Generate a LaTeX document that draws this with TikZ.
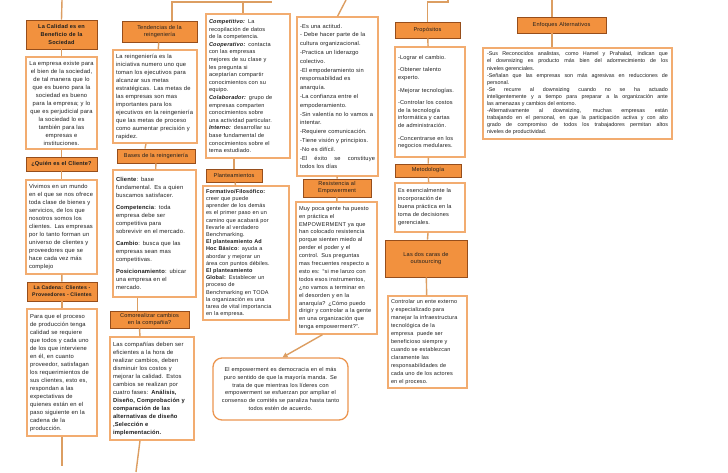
\documentclass[tikz,border=0pt]{standalone}
\usepackage{fontspec}
\setmainfont{Liberation Sans}[LetterSpace=3]
\newfontfamily\plainfont{Liberation Sans}
\usetikzlibrary{calc,arrows.meta}
\definecolor{hfill}{RGB}{242,145,62}
\definecolor{hdraw}{RGB}{150,78,28}
\definecolor{bdraw}{RGB}{242,172,112}
\definecolor{cline}{RGB}{220,158,98}
\definecolor{txt}{RGB}{30,30,30}
\newcommand\myfs[2]{\fontsize{#1}{#2}\selectfont}
\newcommand\bxnode[7]{%
  \pgfmathsetmacro\bxW{#5-#3}\pgfmathsetmacro\bxH{#6-#4}\pgfmathsetmacro\bxT{#5-#3-6}%
  \pgfmathsetmacro\bxX{(#3+#5)/2}\pgfmathsetmacro\bxY{(#4+#6)/2}%
  \node[minimum width=\bxW pt, minimum height=\bxH pt, text width=\bxT pt, #2] (#1) at (\bxX,\bxY) {#7};}
\tikzset{
  hdr/.style={draw=hdraw, fill=hfill, line width=0.9pt, align=center, inner xsep=3pt, inner ysep=0pt, text=txt, font=\myfs{5.6}{7}},
  bx/.style={draw=bdraw, fill=white, line width=1.3pt, align=left, inner xsep=3pt, inner ysep=1pt, text=txt, font=\myfs{5.8}{8}},
  rbx/.style={bx, rounded corners=9pt, draw={rgb,255:red,236;green,150;blue,80}, align=center},
  con/.style={draw=cline, line width=1.4pt},
  arr/.style={draw=cline, line width=1.4pt, -{Triangle[length=5pt,width=5pt]}},
}
\begin{document}
\begin{tikzpicture}[x=1pt,y=-1pt]
\useasboundingbox (0,0) rectangle (728,472);
\fill[white] (0,0) rectangle (728,472);

% ---------- column 1
\bxnode{h1}{hdr, font=\bfseries\myfs{5.6}{7.6}}{26}{20}{97}{49}{La Calidad es en\\Beneficio de la\\Sociedad}
\bxnode{b1}{bx, align=center}{26}{57}{97}{149}{La empresa existe para\\el bien de la sociedad,\\de tal manera que lo\\que es bueno para la\\sociedad es bueno\\para la empresa; y lo\\que es perjudicial para\\la sociedad lo es\\también para las\\empresas e\\instituciones.}
\bxnode{h2}{hdr, font=\bfseries\myfs{5.6}{7}}{26}{157}{97}{171}{¿Quién es el Cliente?}
\bxnode{b2}{bx}{26}{180}{97}{274}{Vivimos en un mundo\\en el que se nos ofrece\\toda clase de bienes y\\servicios, de los que\\nosotros somos los\\clientes. Las empresas\\por lo tanto forman un\\universo de clientes y\\proveedores que se\\hace cada vez más\\complejo}
\bxnode{h3}{hdr, font=\bfseries\myfs{5.2}{6.8}}{27}{282}{97}{301}{La Cadena: Clientes -\\Proveedores - Clientes}
\bxnode{b3}{bx}{27}{309}{97}{436}{Para que el proceso\\de producción tenga\\calidad se requiere\\que todos y cada uno\\de los que interviene\\en él, en cuanto\\proveedor, satisfagan\\los requerimientos de\\sus clientes, esto es,\\respondan a las\\expectativas de\\quienes están en el\\paso siguiente en la\\cadena de la\\producción.}
\coordinate (top1) at (62,0);
\coordinate (bot1) at (62,466);
\draw[con] (top1) -- (h1.north);
\draw[con] (h1) -- (b1);
\draw[con] (b1) -- (h2);
\draw[con] (h2) -- (b2);
\draw[con] (b2) -- (h3);
\draw[con] (h3) -- (b3);
\draw[con] (b3.south) -- (bot1);

% ---------- column 2
\bxnode{t1}{hdr}{122}{21}{197}{42}{Tendencias de la\\reingeniería}
\bxnode{tb}{bx}{113}{50}{197}{143}{La reingeniería es la\\iniciativa numero uno que\\toman los ejecutivos para\\alcanzar sus metas\\estratégicas. Las metas de\\las empresas son mas\\importantes para los\\ejecutivos en la reingeniería\\que las metas de proceso\\como aumentar precisión y\\rapidez.}
\bxnode{bh}{hdr}{117}{149}{195}{163}{Bases de la reingeniería}
\bxnode{bb}{bx}{113}{170}{196}{297}{\textbf{Cliente}: base\\fundamental. Es a quien\\buscamos satisfacer.\\[4pt]\textbf{Competencia}: toda\\empresa debe ser\\competitiva para\\sobrevivir en el mercado.\\[4pt]\textbf{Cambio}: busca que las\\empresas sean mas\\competitivas.\\[4pt]\textbf{Posicionamiento}: ubicar\\una empresa en el\\mercado.}
\bxnode{ch}{hdr}{110}{311}{189}{328}{Comorealizar cambios\\en la compañia?}
\bxnode{cx}{bx}{110}{337}{194}{440}{Las compañías deben ser\\eficientes a la hora de\\realizar cambios, deben\\disminuir los costos y\\mejorar la calidad. Estos\\cambios se realizan por\\cuatro fases: \textbf{Análisis,}\\\textbf{Diseño, Comprobación y}\\\textbf{comparación de las}\\\textbf{alternativas de diseño}\\\textbf{,Selección e}\\\textbf{implementación.}}
\coordinate (j2) at (172,2);
\coordinate (j3) at (243,2);
\coordinate (j4) at (272,2);
\coordinate (bot2) at (136,472);
\draw[con] (t1.north -| j2) -- (j2) -- (j4);
\draw[con] (t1) -- (tb);
\draw[con] ($(tb.south)+(-9,0)$) -- ($(bh.north)+(-11,0)$);
\draw[con] (bh) -- (bb);
\draw[con] ($(bb.south)+(-17,0)$) -- ($(ch.north)+(-12,0)$);
\draw[con] ($(ch.south)+(-10,0)$) -- ($(cx.north)+(-12,0)$);
\draw[con] ($(cx.south)+(-12,0)$) -- (bot2);

% ---------- column 3
\bxnode{cb}{bx, font=\myfs{5.6}{7.6}}{206}{14}{290}{158}{\textbf{\textit{Competitivo:}} La\\recopilación de datos\\de la competencia.\\\textbf{\textit{Cooperativo:}} contacta\\con las empresas\\mejores de su clase y\\les pregunta si\\aceptarían compartir\\conocimientos con su\\equipo.\\\textbf{\textit{Colaborador:}} grupo de\\empresas comparten\\conocimientos sobre\\una actividad particular.\\\textbf{\textit{Interno:}} desarrollar su\\base fundamental de\\conocimientos sobre el\\tema estudiado.}
\bxnode{ph}{hdr}{206}{169}{262}{182}{Planteamientos}
\bxnode{fb}{bx, font=\myfs{5.5}{7.2}}{203}{186}{289}{320}{\textbf{Formativo/Filosófico:}\\creer que puede\\aprender de los demás\\es el primer paso en un\\camino que acabará por\\llevarle al verdadero\\Benchmarking.\\\textbf{El planteamiento Ad}\\\textbf{Hoc Básico}: ayuda a\\abordar y mejorar un\\área con puntos débiles.\\\textbf{El planteamiento}\\\textbf{Global:} Establecer un\\proceso de\\Benchmarking en TODA\\la organización es una\\tarea de vital importancia\\en la empresa.}
\draw[con] (cb.north -| j3) -- (j3);
\draw[con] (cb.south -| ph.north) -- (ph.north);
\draw[con] (ph) -- (fb);

% ---------- column 4
\bxnode{eb}{bx, font=\myfs{5.7}{8.8}}{297}{17}{378}{176}{-Es una actitud.\\ - Debe hacer parte de la\\cultura organizacional.\\-Practica un liderazgo\\colectivo.\\-El empoderamiento sin\\responsabilidad es\\anarquía.\\-La confianza entre el\\empoderamiento.\\-Sin valentía no lo vamos a\\intentar.\\-Requiere comunicación.\\-Tiene visión y principios.\\-No es difícil.\\-El\hfill éxito\hfill se\hfill constituye\\todos los días}
\bxnode{rh}{hdr}{303}{179}{371}{197}{Resistencia al\\Empowerment}
\bxnode{mb}{bx, font=\myfs{5.6}{7.9}}{296}{202}{377}{334}{Muy poca gente ha puesto\\en práctica el\\EMPOWERMENT ya que\\han colocado resistencia\\porque sienten miedo al\\perder el poder y el\\control. Sus preguntas\\mas frecuentes respecto a\\esto es: “si me lanzo con\\todos esos instrumentos,\\¿no vamos a terminar en\\el desorden y en la\\anarquía? ¿Cómo puedo\\dirigir y controlar a la gente\\en una organización que\\tenga empowerment?”.}
\bxnode{rb}{rbx, font=\myfs{5.6}{7.7}}{213}{358}{348}{420}{El empowerment es democracia en el más\\puro sentido de que la mayoría manda. Se\\trata de que mientras los líderes con\\empowerment se esfuerzan por ampliar el\\consenso de comités se paraliza hasta tanto\\todos estén de acuerdo.}
\coordinate (top4) at (346,0);
\draw[con] (top4) -- (eb.north);
\draw[con] (eb) -- (rh);
\draw[con] (rh) -- (mb);
\draw[arr] ($(mb.south)+(-14,0)$) -- ($(rb.north)+(2,0)$);

% ---------- column 5
\bxnode{pr}{hdr}{395}{22}{460}{38}{Propósitos}
\bxnode{pb}{bx, font=\myfs{5.6}{7.6}}{395}{47}{465}{157}{-Lograr el cambio.\\[5pt]-Obtener talento\\experto.\\[5pt]-Mejorar tecnologías.\\[5pt]-Controlar los costos\\de la tecnología\\informática y cartas\\de administración.\\[5pt]-Concentrarse en los\\negocios medulares.}
\bxnode{mh}{hdr}{395}{164}{461}{177}{Metodología}
\bxnode{mx}{bx, font=\myfs{5.6}{8}}{395}{183}{465}{232}{Es esencialmente la\\incorporación de\\buena práctica en la\\toma de decisiones\\gerenciales.}
\bxnode{dh}{hdr}{385}{240}{467}{277}{Las dos caras de\\outsourcing}
\bxnode{db}{bx, font=\myfs{5.5}{8}}{388}{296}{467}{388}{Controlar un ente externo\\y especializado para\\manejar la infraestructura\\tecnológica de la\\empresa\ \ puede ser\\beneficioso siempre y\\cuando se establezcan\\claramente las\\responsabilidades de\\cada uno de los actores\\en el proceso.}
\coordinate (j5) at (448,2);
\coordinate (top5) at (448,0);
\draw[con] (pr.north) |- (j5) -- (top5);
\draw[con] (pr) -- (pb);
\draw[con] (pb) -- (mh);
\draw[con] (mh) -- (mx);
\draw[con] (mx) -- (dh);
\draw[con] (dh) -- (db);

% ---------- column 6
\bxnode{en}{hdr}{517}{17}{606}{33}{Enfoques Alternativos}
\bxnode{ea}{bx, font=\plainfont\myfs{5.4}{7.1}, align=justify, text width=181pt, inner xsep=4pt}{483}{48}{672}{139}{-Sus Reconocidos analistas, como Hamel y Prahalad, indican que\linebreak el downsizing es producto más bien del adormecimiento de los\linebreak niveles gerenciales.\\-Señalan que las empresas son más agresivas en reducciones de\linebreak personal.\\-Se recurre al downsizing cuando no se ha actuado\linebreak inteligentemente y a tiempo para preparar a la organización ante\linebreak las amenazas y cambios del entorno.\\-Alternativamente al downsizing, muchas empresas están\linebreak trabajando en el personal, en que la participación activa y con alto\linebreak grado de compromiso de todos los trabajadores permitan altos\linebreak niveles de productividad.}
\coordinate (top6) at (552,0);
\draw[con] (top6) -- (en.north -| top6);
\draw[con] (en.south -| top6) -- (ea.north -| top6);
\end{tikzpicture}
\end{document}
